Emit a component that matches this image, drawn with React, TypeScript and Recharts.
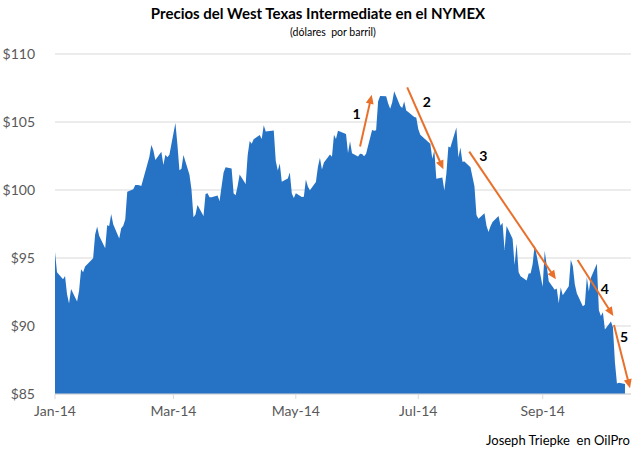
import React from 'react';
import {
  AreaChart,
  Area,
  XAxis,
  YAxis,
  CartesianGrid,
  ReferenceLine,
  ReferenceDot,
} from 'recharts';

// WTI daily settle, 2014 — [day of month, price]
const jan: [number, number][] = [
  [2, 95.44], [3, 93.96], [6, 93.43], [7, 93.67], [8, 92.33], [9, 91.66], [10, 92.72],
  [13, 91.8], [14, 92.59], [15, 94.17], [16, 93.96], [17, 94.37], [21, 94.99], [22, 96.73],
  [23, 97.32], [24, 96.64], [27, 95.72], [28, 97.41], [29, 97.36], [30, 98.23], [31, 97.49],
];
const feb: [number, number][] = [
  [3, 96.43], [4, 97.19], [5, 97.38], [6, 97.84], [7, 99.88], [10, 100.06], [11, 100.37],
  [12, 100.37], [13, 100.35], [14, 100.3], [18, 102.43], [19, 103.31], [20, 102.92],
  [21, 102.2], [24, 102.82], [25, 101.83], [26, 102.59], [27, 102.4], [28, 102.59],
];
const mar: [number, number][] = [
  [3, 104.92], [4, 103.33], [5, 101.45], [6, 101.56], [7, 102.58], [10, 101.12], [11, 100.03],
  [12, 97.99], [13, 98.2], [14, 98.89], [17, 98.08], [18, 99.7], [19, 99.77], [20, 99.46],
  [21, 99.46], [24, 99.6], [25, 99.19], [26, 100.26], [27, 101.28], [28, 101.67], [31, 101.58],
];
const apr: [number, number][] = [
  [1, 99.74], [2, 99.62], [3, 100.29], [4, 101.14], [7, 100.44], [8, 102.56], [9, 103.6],
  [10, 103.4], [11, 103.74], [14, 104.05], [15, 103.75], [16, 104.76], [17, 104.3], [21, 104.37],
  [22, 102.13], [23, 101.44], [24, 101.94], [25, 100.6], [28, 100.84], [29, 101.28], [30, 99.74],
];
const may: [number, number][] = [
  [1, 99.42], [2, 99.76], [5, 99.48], [6, 99.5], [7, 100.77], [8, 100.26], [9, 99.99],
  [12, 100.59], [13, 101.7], [14, 102.37], [15, 101.5], [16, 102.02], [19, 102.61], [20, 102.44],
  [21, 104.07], [22, 103.75], [23, 104.35], [27, 104.11], [28, 102.72], [29, 103.58], [30, 102.71],
];
const jun: [number, number][] = [
  [2, 102.47], [3, 102.66], [4, 102.64], [5, 102.48], [6, 102.66], [9, 104.41], [10, 104.35],
  [11, 104.4], [12, 106.53], [13, 106.91], [16, 106.9], [17, 106.36], [18, 105.97], [19, 106.43],
  [20, 107.26], [23, 106.17], [24, 106.03], [25, 106.5], [26, 105.84], [27, 105.74], [30, 105.37],
];
const jul: [number, number][] = [
  [1, 105.34], [2, 104.48], [3, 104.06], [7, 103.53], [8, 103.4], [9, 102.29], [10, 102.93],
  [11, 100.83], [14, 100.91], [15, 99.96], [16, 101.2], [17, 103.19], [18, 103.13], [21, 104.59],
  [22, 102.39], [23, 103.12], [24, 102.07], [25, 102.09], [28, 101.67], [29, 100.97], [30, 100.27],
  [31, 98.17],
];
const aug: [number, number][] = [
  [1, 97.88], [4, 98.29], [5, 97.38], [6, 96.92], [7, 97.34], [8, 97.65], [11, 98.08],
  [12, 97.37], [13, 97.59], [14, 95.58], [15, 97.35], [18, 96.41], [19, 94.48], [20, 96.07],
  [21, 93.96], [22, 93.65], [25, 93.35], [26, 93.86], [27, 93.88], [28, 94.55], [29, 95.96],
];
const sep: [number, number][] = [
  [2, 92.88], [3, 95.54], [4, 94.45], [5, 93.29], [8, 92.66], [9, 92.75], [10, 91.67],
  [11, 92.83], [12, 92.27], [15, 92.92], [16, 94.88], [17, 94.42], [18, 93.07], [19, 92.41],
  [22, 91.46], [23, 91.56], [24, 93.6], [25, 92.53], [26, 93.54], [29, 94.57], [30, 91.16],
];
const oct: [number, number][] = [
  [1, 90.73], [2, 91.01], [3, 89.74], [6, 90.34], [7, 89.9], [8, 87.31], [9, 85.77],
  [10, 85.82], [13, 85.74],
];

const months = [jan, feb, mar, apr, may, jun, jul, aug, sep, oct];

// x-axis ticks (month index, day) and labels
const tickDates: [number, number][] = [[0, 2], [2, 2], [4, 2], [6, 2], [8, 2]];
const tickLabels = ['Jan-14', 'Mar-14', 'May-14', 'Jul-14', 'Sep-14'];
const yTicks = [85, 90, 95, 100, 105, 110];

// annotation arrows in (day index, price)
const arrowNames = ['1', '2', '3', '4', '5'];
const arrowFrom: [number, number][] = [[152, 103.2], [175.5, 107.55], [206.4, 102.82], [260.4, 94.85], [278.5, 90.07]];
const arrowTo: [number, number][] = [[157.8, 107.0], [193.5, 101.52], [249.6, 93.43], [278.2, 90.74], [286.5, 85.42]];
const arrowLabelAt: [number, number][] = [[150.3, 105.64], [185.2, 106.5], [213.4, 102.57], [274, 92.77], [283.5, 89.24]];

const start = Date.UTC(2014, 0, 2);
const dayIndex = (m: number, d: number) => Math.round((Date.UTC(2014, m, d) - start) / 86400000);

const data = months.flatMap((rows, m) =>
  rows.map(([d, price]) => ({ day: dayIndex(m, d), price }))
);
const ticks = tickDates.map(([m, d]) => dayIndex(m, d));

const ORANGE = '#E8702A';
const BLUE = '#2673C5';
const GRID = '#D9D9D9';
const FONT = 'Lato, Calibri, sans-serif';

const Arrow = (props: any) => {
  const { x1, y1, x2, y2 } = props;
  if ([x1, y1, x2, y2].some((v) => v == null || isNaN(v))) return null;
  const dx = x2 - x1;
  const dy = y2 - y1;
  const len = Math.sqrt(dx * dx + dy * dy);
  const ux = dx / len;
  const uy = dy / len;
  const head = 9;
  const half = 4;
  const bx = x2 - ux * head;
  const by = y2 - uy * head;
  const pts = `${x2},${y2} ${bx - uy * half},${by + ux * half} ${bx + uy * half},${by - ux * half}`;
  return (
    <g>
      <line x1={x1} y1={y1} x2={bx + ux} y2={by + uy} stroke={ORANGE} strokeWidth={2} />
      <polygon points={pts} fill={ORANGE} />
    </g>
  );
};

export default function App() {
  return (
    <div
      style={{
        position: 'absolute',
        left: 0,
        top: 0,
        width: 640,
        height: 457,
        background: '#fff',
        fontFamily: FONT,
      }}
    >
      <div
        style={{
          position: 'absolute',
          left: 0,
          top: 4,
          width: 636,
          textAlign: 'center',
          fontWeight: 700,
          fontSize: 15,
          color: '#000',
        }}
      >
        Precios del West Texas Intermediate en el NYMEX
      </div>
      <div
        style={{
          position: 'absolute',
          left: 0,
          top: 26,
          width: 666,
          textAlign: 'center',
          fontSize: 10.5,
          color: '#000',
          whiteSpace: 'pre',
        }}
      >
        (dólares  por barril)
      </div>

      <AreaChart
        width={640}
        height={457}
        data={data}
        margin={{ top: 54, right: 9, left: 10, bottom: 33 }}
      >
        <CartesianGrid horizontal vertical={false} stroke={GRID} />
        <XAxis
          dataKey="day"
          type="number"
          domain={[0, 287]}
          ticks={ticks}
          tickFormatter={(v) => tickLabels[ticks.indexOf(v)] ?? ''}
          height={30}
          tickSize={5}
          tickMargin={7}
          axisLine={{ stroke: GRID }}
          tickLine={{ stroke: GRID }}
          tick={{ fill: '#595959', fontSize: 14, fontFamily: FONT }}
          interval={0}
        />
        <YAxis
          type="number"
          domain={[85, 110]}
          ticks={yTicks}
          tickFormatter={(v) => `$${v}`}
          width={45}
          axisLine={false}
          tickLine={false}
          tickMargin={14}
          tick={{ fill: '#595959', fontSize: 14, fontFamily: FONT }}
          interval={0}
        />
        <Area
          type="linear"
          dataKey="price"
          stroke="none"
          fill={BLUE}
          fillOpacity={1}
          isAnimationActive={false}
          dot={false}
          activeDot={false}
        />
        {arrowNames.map((name, i) => (
          <ReferenceLine
            key={`arrow-${name}`}
            segment={[
              { x: arrowFrom[i][0], y: arrowFrom[i][1] },
              { x: arrowTo[i][0], y: arrowTo[i][1] },
            ]}
            ifOverflow="visible"
            shape={Arrow}
          />
        ))}
        {arrowNames.map((name, i) => (
          <ReferenceDot
            key={`label-${name}`}
            x={arrowLabelAt[i][0]}
            y={arrowLabelAt[i][1]}
            ifOverflow="visible"
            shape={(p: any) => (
              <text
                x={p.cx}
                y={p.cy}
                textAnchor="middle"
                dominantBaseline="central"
                fontSize={14}
                fontWeight={700}
                fontFamily={FONT}
                fill="#000"
              >
                {name}
              </text>
            )}
          />
        ))}
      </AreaChart>

      <div
        style={{
          position: 'absolute',
          left: 486,
          top: 432,
          fontSize: 13,
          fontWeight: 400,
          color: '#000',
          whiteSpace: 'pre',
        }}
      >
        Joseph Triepke  en OilPro
      </div>
    </div>
  );
}
